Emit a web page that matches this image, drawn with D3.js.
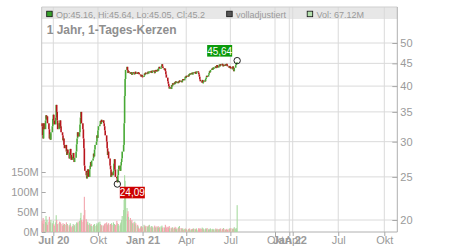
<!DOCTYPE html>
<html>
<head>
<meta charset="utf-8">
<script src="https://cdn.jsdelivr.net/npm/d3@7"></script>
<style>
  body { margin: 0; background: #fff; }
  svg { display: block; font-family: Arial, "Liberation Sans", sans-serif; }
</style>
</head>
<body>
<div id="chart"></div>
<script>
// Data
var startDay = "2020-06-08";
var firstOpen = 33.0;
var closes = [
  32.5, 31.0, 30.5, 33.0, 32.0,   33.5, 34.4, 33.8, 34.2, 33.0,
  32.0, 30.5, 31.2, 30.3, 31.5,   32.5, 33.8, 34.5, 33.5, 32.8,
  34.0, 36.3, 35.0, 33.5, 32.0,   33.0, 32.2, 33.5, 32.5, 31.5,
  31.0, 30.2, 30.5, 29.5, 29.0,   29.5, 28.5, 28.0, 28.8, 28.2,
  27.5, 28.4, 28.9, 28.0, 27.3,   27.8, 28.3, 27.5, 27.0, 27.6,
  28.5, 29.6, 30.5, 31.5, 30.8,   31.5, 32.8, 34.0, 35.0, 33.0,
  32.0, 30.5, 29.0, 26.5, 25.8,   25.2, 24.8, 25.6, 26.0, 25.0,
  26.0, 26.5, 27.0, 26.4, 27.2,   27.5, 28.2, 27.8, 28.8, 29.5,
  30.0, 31.0, 30.6, 31.8, 32.5,   32.8, 33.4, 32.9, 33.6, 33.2,
  33.5, 33.0, 32.5, 31.8, 31.0,   30.0, 29.0, 28.0, 28.5, 27.5,
  26.5, 26.0, 25.0, 25.6, 25.2,   25.8, 26.8, 27.4, 26.0, 25.0,
  24.8, 24.3, 25.2, 26.0, 26.5,   25.8, 26.5, 27.0, 27.5, 28.5,
  29.5, 33.0, 38.0, 41.5, 43.5,   44.2, 43.5, 42.8, 43.2, 42.9,
  42.6, 43.0, 42.7, 42.4, 43.0,   42.8, 42.5, 42.9, 43.1, 42.6,
  42.9, 42.7, 43.0, 42.8, 42.5,   42.3, 42.0, 42.4, 42.1, 42.0,
  42.2, 42.7, 42.5, 42.9, 42.6,   42.8, 43.1, 42.7, 43.0, 43.2,
  42.9, 43.3, 42.8, 43.1, 43.4,   43.0, 42.8, 43.2, 43.5, 43.1,
  43.6, 43.3, 43.9, 44.2, 43.8,   44.0, 44.4, 44.8, 44.3, 43.9,
  43.5, 43.8, 43.2, 42.5, 41.8,   41.0, 40.5, 40.0, 39.5, 39.8,
  39.4, 40.2, 40.0, 40.6, 40.3,   40.8, 40.5, 41.0, 40.7, 40.9,
  40.6, 41.0, 40.8, 41.2, 40.9,   41.1, 40.8, 41.3, 41.5, 41.2,
  41.6, 42.0, 41.7, 42.2, 42.0,   42.3, 42.1, 42.6, 42.4, 42.8,
  42.5, 42.9, 42.6, 42.7, 43.0,   42.8, 43.1, 42.6, 42.9, 43.2,
  42.9, 42.5, 42.0, 41.4, 41.0,   40.9, 41.3, 40.7, 40.8, 41.2,
  41.0, 41.5, 41.8, 42.2, 42.0,   42.4, 42.8, 43.2, 43.0, 43.5,
  43.8, 43.5, 44.0, 43.7, 44.1,   44.3, 43.9, 44.2, 44.6, 44.0,
  44.4, 44.7, 44.3, 44.8, 44.5,   44.9, 44.6, 44.3, 44.7, 44.4,
  44.8, 44.5, 44.9, 44.6, 44.3,   44.1, 44.4, 43.9, 44.2, 43.8,
  43.9, 44.3, 43.6, 43.2, 44.0,   44.6, 45.0, 45.16, 45.2
];
// volume in millions
var volumes = [
  28, 22, 35, 20, 30,   25, 40, 22, 30, 18,
  26, 38, 20, 24, 30,   22, 18, 28, 20, 16,
  24, 42, 30, 18, 20,   22, 26, 18, 24, 20,
  16, 22, 18, 14, 20,   18, 24, 15, 20, 17,
  14, 18, 22, 16, 12,   15, 20, 13, 18, 16,
  20, 24, 18, 22, 26,   28, 24, 35, 48, 30,
  26, 30, 42, 88, 55,   32, 24, 20, 26, 18,
  22, 18, 16, 20, 15,   14, 18, 16, 20, 15,
  18, 22, 16, 20, 24,   26, 20, 18, 15, 17,
  16, 14, 18, 20, 22,   24, 18, 16, 20, 22,
  18, 20, 15, 22, 18,   24, 16, 20, 14, 18,
  28, 22, 16, 20, 15,   18, 22, 25, 30, 40,
  55, 80, 142, 128, 90, 60, 45, 52, 38, 30,
  35, 28, 25, 30, 22,   24, 20, 26, 18, 22,
  16, 18, 14, 10, 8,    12, 15, 14, 10, 12,
  18, 14, 16, 12, 15,   14, 12, 16, 13, 18,
  12, 15, 11, 14, 10,   13, 16, 12, 10, 14,
  12, 15, 10, 13, 11,   14, 11, 16, 10, 12,
  10, 12, 18, 14, 11,   13, 10, 12, 15, 9,
  11, 8, 10, 12, 9,     10, 13, 8, 11, 7,
  9, 12, 8, 15, 10,     8, 10, 7, 9, 6,
  8, 6, 9, 7, 5,        6, 8, 7, 9, 6,
  7, 5, 8, 6, 9,        8, 6, 7, 9, 5,
  7, 10, 8, 6, 9,       8, 11, 7, 9, 6,
  7, 9, 6, 8, 10,       6, 8, 5, 7, 9,
  7, 6, 8, 5, 7,        6, 9, 7, 5, 8,
  7, 5, 8, 6, 9,        6, 8, 5, 10, 7,
  5, 7, 6, 8, 5,        7, 9, 6, 8, 10,
  8, 6, 9, 7, 12,       8, 10, 6, 67.12
];
var priceTicks = [20, 25, 30, 35, 40, 45, 50];
var volTicks = [0, 50, 100, 150];
var monthTicks = ["2020-07-01", "2020-10-01", "2021-01-01", "2021-04-01", "2021-07-01",
                  "2021-10-01", "2022-01-01", "2022-04-01", "2022-07-01", "2022-10-01"];
var monthLabels = ["Jul 20", "Okt", "Jan 21", "Apr", "Jul", "Okt", "Jan 22", "Apr", "Jul", "Okt"];
var highPoint = { date: "2021-07-15", value: 45.64 };
var lowPoint = { date: "2020-11-10", value: 24.09 };
var headerText = "Op:45.16, Hi:45.64, Lo:45.05, Cl:45.2";

// Sizing
var svgWidth = 450, svgHeight = 250;
var frame = { left: 41.7, right: 397.3, top: 7, bottom: 232 };
var gridColor = "#dadada", textColor = "#9a9a9a";

var svg = d3.select("#chart").append("svg")
  .attr("width", svgWidth)
  .attr("height", svgHeight);

var parse = d3.timeParse("%Y-%m-%d");

// trading days
var dates = [];
var day = parse(startDay);
while (dates.length < closes.length) {
  if (day.getDay() % 6 !== 0) dates.push(day);
  day = d3.timeDay.offset(day, 1);
}
var candles = closes.map(function(c, i) {
  return { date: dates[i], open: i === 0 ? firstOpen : closes[i - 1], close: c, vol: volumes[i] };
});

// scales (the time axis of the original is compressed after Okt 21)
var xScale = d3.scaleTime()
  .domain(["2020-07-01", "2021-10-01", "2022-01-01", "2022-04-01", "2022-10-01"].map(parse))
  .range([53.3, 275, 289.3, 292.7, 384.3]);
var yPrice = d3.scaleLog().domain([20, 50]).range([220, 43]);
var yVol = d3.scaleLinear().domain([0, 150]).range([frame.bottom, 172]);

// header band
svg.append("rect")
  .attr("x", frame.left).attr("y", frame.top)
  .attr("width", frame.right - frame.left).attr("height", 12)
  .attr("fill", "#e7e7e7");

// grid
svg.append("g").selectAll("line")
  .data(monthTicks.map(parse))
  .enter().append("line")
  .attr("x1", d => xScale(d)).attr("x2", d => xScale(d))
  .attr("y1", frame.top).attr("y2", frame.bottom)
  .attr("stroke", gridColor);
svg.append("g").selectAll("line")
  .data(priceTicks)
  .enter().append("line")
  .attr("x1", frame.left).attr("x2", frame.right)
  .attr("y1", d => yPrice(d)).attr("y2", d => yPrice(d))
  .attr("stroke", gridColor);

// frame
svg.append("line").attr("x1", frame.left).attr("x2", frame.right)
  .attr("y1", frame.top).attr("y2", frame.top).attr("stroke", "#cfcfcf");
svg.append("line").attr("x1", frame.left).attr("x2", frame.left)
  .attr("y1", frame.top).attr("y2", frame.bottom).attr("stroke", "#c4c4c4");
svg.append("line").attr("x1", frame.right).attr("x2", frame.right)
  .attr("y1", frame.top).attr("y2", frame.bottom).attr("stroke", "#b0b0b0");
svg.append("line").attr("x1", frame.left).attr("x2", frame.right)
  .attr("y1", frame.bottom).attr("y2", frame.bottom).attr("stroke", "#b0b0b0");

// axes
function styleAxis(g) {
  g.select(".domain").remove();
  g.selectAll("line").attr("stroke", "#a8a8a8");
  g.selectAll("text").attr("fill", textColor).style("font-size", "11px")
    .style("font-family", "Arial, 'Liberation Sans', sans-serif");
}
svg.append("g")
  .attr("transform", `translate(${frame.right},0)`)
  .call(d3.axisRight(yPrice).tickValues(priceTicks).tickSize(-5).tickPadding(3)
    .tickFormat(d3.format("d")))
  .call(styleAxis);
svg.append("g")
  .attr("transform", `translate(${frame.left},0)`)
  .call(d3.axisLeft(yVol).tickValues(volTicks).tickSize(-4).tickPadding(3)
    .tickFormat(d => d + "M"))
  .call(styleAxis);
svg.append("g")
  .attr("transform", `translate(0,${frame.bottom})`)
  .call(d3.axisBottom(xScale).tickValues(monthTicks.map(parse)).tickSize(4).tickPadding(0)
    .tickFormat((d, i) => monthLabels[i]))
  .call(styleAxis)
  .selectAll("text")
  .style("font-weight", (d, i) => monthLabels[i].indexOf(" ") > 0 ? "bold" : "normal");

// volume bars
svg.append("g").selectAll("rect")
  .data(candles)
  .enter().append("rect")
  .attr("x", d => xScale(d.date) - 0.55)
  .attr("width", 1.1)
  .attr("y", d => yVol(d.vol))
  .attr("height", d => frame.bottom - yVol(d.vol))
  .attr("fill", d => d.close >= d.open ? "#a9dba2" : "#f2a5ad");

// candles
svg.append("g").selectAll("rect")
  .data(candles)
  .enter().append("rect")
  .attr("x", d => xScale(d.date) - 0.8)
  .attr("width", 1.6)
  .attr("y", d => yPrice(Math.max(d.open, d.close)))
  .attr("height", d => Math.max(1.2, Math.abs(yPrice(d.open) - yPrice(d.close))))
  .attr("fill", d => d.close >= d.open ? "#48a935" : "#b8141c");

// high / low markers
var fmt = v => d3.format(".2f")(v).replace(".", ",");
function marker(p, color, dx, dy) {
  var cx = xScale(parse(p.date)), cy = yPrice(p.value);
  var g = svg.append("g");
  g.append("rect")
    .attr("x", cx + dx).attr("y", cy + dy)
    .attr("width", 25).attr("height", 11.6)
    .attr("fill", color);
  g.append("text")
    .attr("x", cx + dx + 12.5).attr("y", cy + dy + 9.6)
    .attr("text-anchor", "middle")
    .style("font-size", "10px")
    .attr("fill", "#fff")
    .text(fmt(p.value));
  g.append("circle")
    .attr("cx", cx).attr("cy", cy).attr("r", 3.2)
    .attr("fill", "none").attr("stroke", "#222").attr("stroke-width", 1);
}
marker(highPoint, "#0a9a0a", -30, -15.6);
marker(lowPoint, "#cc0000", 2.5, 2.7);

// header legend
var legend = [
  { x: 46.7, fill: "#36a12b", text: headerText },
  { x: 226.7, fill: "#555", text: "volladjustiert" },
  { x: 307.2, fill: "#b4e0ae", text: "Vol: 67.12M" }
];
var lg = svg.append("g").selectAll("g").data(legend).enter().append("g");
lg.append("rect")
  .attr("x", d => d.x).attr("y", 11.2)
  .attr("width", 5.5).attr("height", 5.5)
  .attr("fill", d => d.fill).attr("stroke", "#111").attr("stroke-width", 0.8);
lg.append("text")
  .attr("x", d => d.x + 9.3).attr("y", 17.8)
  .style("font-size", "9px")
  .attr("fill", textColor)
  .text(d => d.text);

// title
svg.append("text")
  .attr("x", 46.7).attr("y", 34.3)
  .style("font-size", "12px")
  .style("font-weight", "bold")
  .attr("fill", "#8f8f8f")
  .text("1 Jahr, 1-Tages-Kerzen");
</script>
</body>
</html>
